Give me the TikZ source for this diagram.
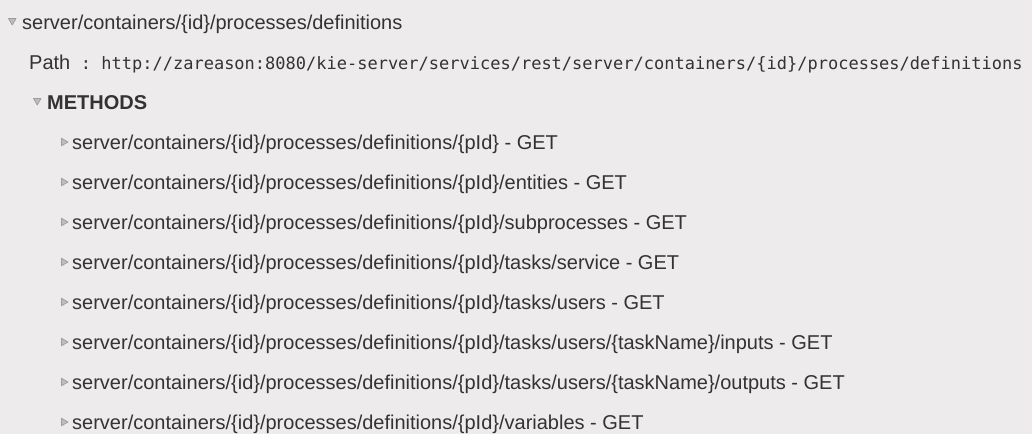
\documentclass[tikz,border=0pt]{standalone}
\usepackage{fontspec}
\setmainfont{Liberation Sans}
\newfontfamily\pathfont{DejaVu Sans Mono}
\usepackage{tikz}
\usetikzlibrary{calc}
\definecolor{bg}{HTML}{EDEBEB}
\definecolor{ink}{HTML}{333333}
\definecolor{tri}{HTML}{BDBDBD}
\definecolor{triedge}{HTML}{9C9C9C}

\begin{document}
\begin{tikzpicture}[x=1pt, y=-1pt,
  txt/.style={anchor=base west, inner sep=0, text=ink, font=\fontsize{20}{24}\selectfont},
  open/.style={fill=tri, draw=triedge, line width=.7pt, line join=round},
  shut/.style={fill=tri, draw=triedge, line width=.7pt, line join=round}]
\fill [bg] (0, 0) rectangle (1032, 434);
\useasboundingbox (0, 0) rectangle (1032, 434);
%\draw [help lines] (0, 0) grid [step=40] (1032, 434);
\node at (22, 29) [name=title, txt] {server/containers/\{id\}/processes/definitions};
\draw [open] (8.5, 18.5) -- ++(7.5, 0) -- ++(-3.75, 6.5) -- cycle;
\node at (29, 69) [name=path, txt] {Path};
\node at (path.base east) [name=url, txt, font=\fontsize{17}{20}\pathfont]
  {\ :\ http://zareason:8080/kie-server/services/rest/server/containers/\{id\}/processes/definitions};
\node at (47, 109) [name=methods, txt, font=\fontsize{20}{24}\selectfont\bfseries] {METHODS};
\draw [open] (33.5, 98.5) -- ++(7.5, 0) -- ++(-3.75, 6.5) -- cycle;
\foreach \sfx [count=\i] in {{}, /entities, /subprocesses, /tasks/service, /tasks/users,
    /tasks/users/\{taskName\}/inputs, /tasks/users/\{taskName\}/outputs, /variables}
{
  \node at (72, 109 + 40*\i) [name=m\i, txt]
    {server/containers/\{id\}/processes/definitions/\{pId\}\sfx{} - GET};
  \draw [shut] (61.5, 138.25 + 40*\i - 40) -- ++(0, 7.5) -- ++(6.5, -3.75) -- cycle;
}
\end{tikzpicture}
\end{document}
